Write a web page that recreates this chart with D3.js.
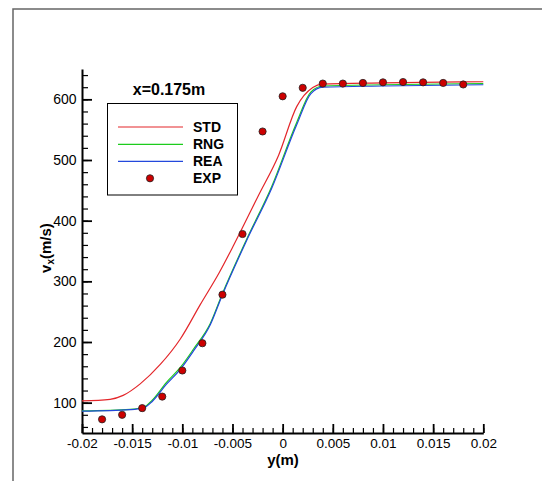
<!DOCTYPE html>
<html>
<head>
<meta charset="utf-8">
<script src="https://cdn.jsdelivr.net/npm/d3@7"></script>
<style>
  body { margin: 0; background: #fff; }
  svg { display: block; font-family: "Liberation Sans", Arial, sans-serif; }
  .tick text { font-size: 14px; fill: #000; }
</style>
</head>
<body>
<div id="chart"></div>
<script>
// ---------------------------------------------------------------- data
const stdY = [-0.02, -0.0172, -0.0159, -0.0142, -0.0122, -0.0102, -0.0082, -0.0063, -0.0049, -0.0024, -0.0004, 0.0014, 0.003, 0.0039, 0.01, 0.02],
      stdV = [103, 105.5, 112, 131, 163, 205, 262, 315, 359, 442, 508, 588, 619.5, 625, 627, 629];

const rngY = [-0.02, -0.0152, -0.0139, -0.013, -0.0116, -0.0102, -0.0089, -0.0072, -0.006, -0.0036, -0.0011, 0.0014, 0.0028, 0.004, 0.01, 0.02],
      rngV = [86.5, 89, 92, 104, 133, 158, 188, 231, 280, 369, 456, 562, 612, 622, 624, 626];

const reaY = [-0.02, -0.0152, -0.0139, -0.013, -0.0116, -0.0102, -0.0089, -0.0072, -0.006, -0.0036, -0.0011, 0.0014, 0.0028, 0.004, 0.01, 0.02],
      reaV = [86, 88.5, 91, 102, 130, 155, 185, 229, 278, 367, 453, 558, 609, 620, 622, 624];

const expY = [-0.018, -0.016, -0.014, -0.012, -0.01, -0.008, -0.006, -0.004, -0.002, 0, 0.002, 0.004, 0.006, 0.008, 0.01, 0.012, 0.014, 0.016, 0.018],
      expV = [72.5, 80, 91, 110, 153, 198, 278, 378, 547, 605, 619, 626, 626, 627, 628, 628.5, 628, 627, 624.5];

const seriesNames = ["STD", "RNG", "REA", "EXP"],
      colors = ["#e3262a", "#1ccc1c", "#2348dc", "#cc0000"];

const title = "x=0.175m";

// ---------------------------------------------------------------- set-up
const W = 542, H = 481;

const x = d3.scaleLinear().domain([-0.02, 0.02]).range([82, 483.3]);
const y = d3.scaleLinear().domain([50, 650]).range([433, 69]);

const svg = d3.select("#chart").append("svg")
    .attr("width", W)
    .attr("height", H);

// outer frame (only top and left edges visible)
svg.append("path")
  .attr("d", "M13,481 L13,9 L542,9")
  .attr("fill", "none")
  .attr("stroke", "#666")
  .attr("stroke-width", 1.5);

// ---------------------------------------------------------------- axes
const fmt = d => String(+d.toFixed(4));

// minor ticks
svg.append("g")
  .attr("transform", "translate(0," + y.range()[0] + ")")
  .call(d3.axisBottom(x).ticks(40).tickSizeInner(-5).tickSizeOuter(0).tickFormat(""))
  .call(g => g.select(".domain").remove())
  .selectAll("line").attr("stroke-width", 1.2);

svg.append("g")
  .attr("transform", "translate(" + x.range()[0] + ",0)")
  .call(d3.axisLeft(y).tickValues(d3.range(60, 651, 20)).tickSizeInner(-6).tickSizeOuter(0).tickFormat(""))
  .call(g => g.select(".domain").remove())
  .selectAll("line").attr("stroke-width", 1.2);

// major ticks + labels
const xAxis = svg.append("g")
  .attr("transform", "translate(0," + y.range()[0] + ")")
  .call(d3.axisBottom(x).ticks(8).tickSizeInner(-9).tickSizeOuter(0).tickPadding(5.5).tickFormat(fmt));
xAxis.select(".domain").attr("stroke-width", 2);
xAxis.selectAll(".tick line").attr("stroke-width", 1.8);
xAxis.selectAll(".tick text").style("font-size", "13.5px");

const yAxis = svg.append("g")
  .attr("transform", "translate(" + x.range()[0] + ",0)")
  .call(d3.axisLeft(y).tickValues([100, 200, 300, 400, 500, 600]).tickSizeInner(-10).tickSizeOuter(0).tickPadding(5.5).tickFormat(fmt));
yAxis.select(".domain").attr("stroke-width", 2);
yAxis.selectAll(".tick line").attr("stroke-width", 1.8);

// axis titles
svg.append("text")
  .attr("x", 283).attr("y", 465)
  .attr("text-anchor", "middle")
  .attr("font-weight", "bold")
  .attr("font-size", 15)
  .text("y(m)");

const yt = svg.append("text")
  .attr("transform", "translate(51,248) rotate(-90)")
  .attr("text-anchor", "middle")
  .attr("font-weight", "bold")
  .attr("font-size", 15);
yt.append("tspan").text("v");
yt.append("tspan").attr("font-size", 10).attr("dy", 3).text("x");
yt.append("tspan").attr("dy", -3).text("(m/s)");

// title
svg.append("text")
  .attr("x", 169).attr("y", 95)
  .attr("text-anchor", "middle")
  .attr("font-weight", "bold")
  .attr("font-size", 16)
  .text(title);

// ---------------------------------------------------------------- curves
const line = d3.line()
  .curve(d3.curveMonotoneX)
  .x(d => x(d[0])).y(d => y(d[1]));

const curves = [
  {name: "STD", ys: stdY, vs: stdV, color: colors[0]},
  {name: "RNG", ys: rngY, vs: rngV, color: colors[1]},
  {name: "REA", ys: reaY, vs: reaV, color: colors[2]}
];

svg.append("g").selectAll("path")
  .data(curves)
  .enter().append("path")
  .attr("fill", "none")
  .attr("stroke", d => d.color)
  .attr("stroke-width", 1.2)
  .attr("d", d => line(d3.zip(d.ys, d.vs)));

// experimental points
svg.append("g").selectAll("circle")
  .data(d3.zip(expY, expV))
  .enter().append("circle")
  .attr("cx", d => x(d[0]))
  .attr("cy", d => y(d[1]))
  .attr("r", 3.6)
  .attr("fill", colors[3])
  .attr("stroke", "#222")
  .attr("stroke-width", 0.8);

// ---------------------------------------------------------------- legend
const legend = svg.append("g");
legend.append("rect")
  .attr("x", 107.5).attr("y", 103.5)
  .attr("width", 130).attr("height", 91.5)
  .attr("fill", "#fff")
  .attr("stroke", "#000")
  .attr("stroke-width", 1);

const rowY = [127, 144.3, 161.3, 178.3];
seriesNames.forEach((n, i) => {
  if (i < 3) {
    legend.append("line")
      .attr("x1", 118).attr("x2", 183)
      .attr("y1", rowY[i]).attr("y2", rowY[i])
      .attr("stroke", colors[i])
      .attr("stroke-width", 1.2);
  } else {
    legend.append("circle")
      .attr("cx", 150).attr("cy", rowY[i])
      .attr("r", 3.6)
      .attr("fill", colors[i])
      .attr("stroke", "#222")
      .attr("stroke-width", 0.8);
  }
  legend.append("text")
    .attr("x", 193).attr("y", rowY[i] + 5)
    .attr("font-weight", "bold")
    .attr("font-size", 14)
    .text(n);
});
</script>
</body>
</html>
